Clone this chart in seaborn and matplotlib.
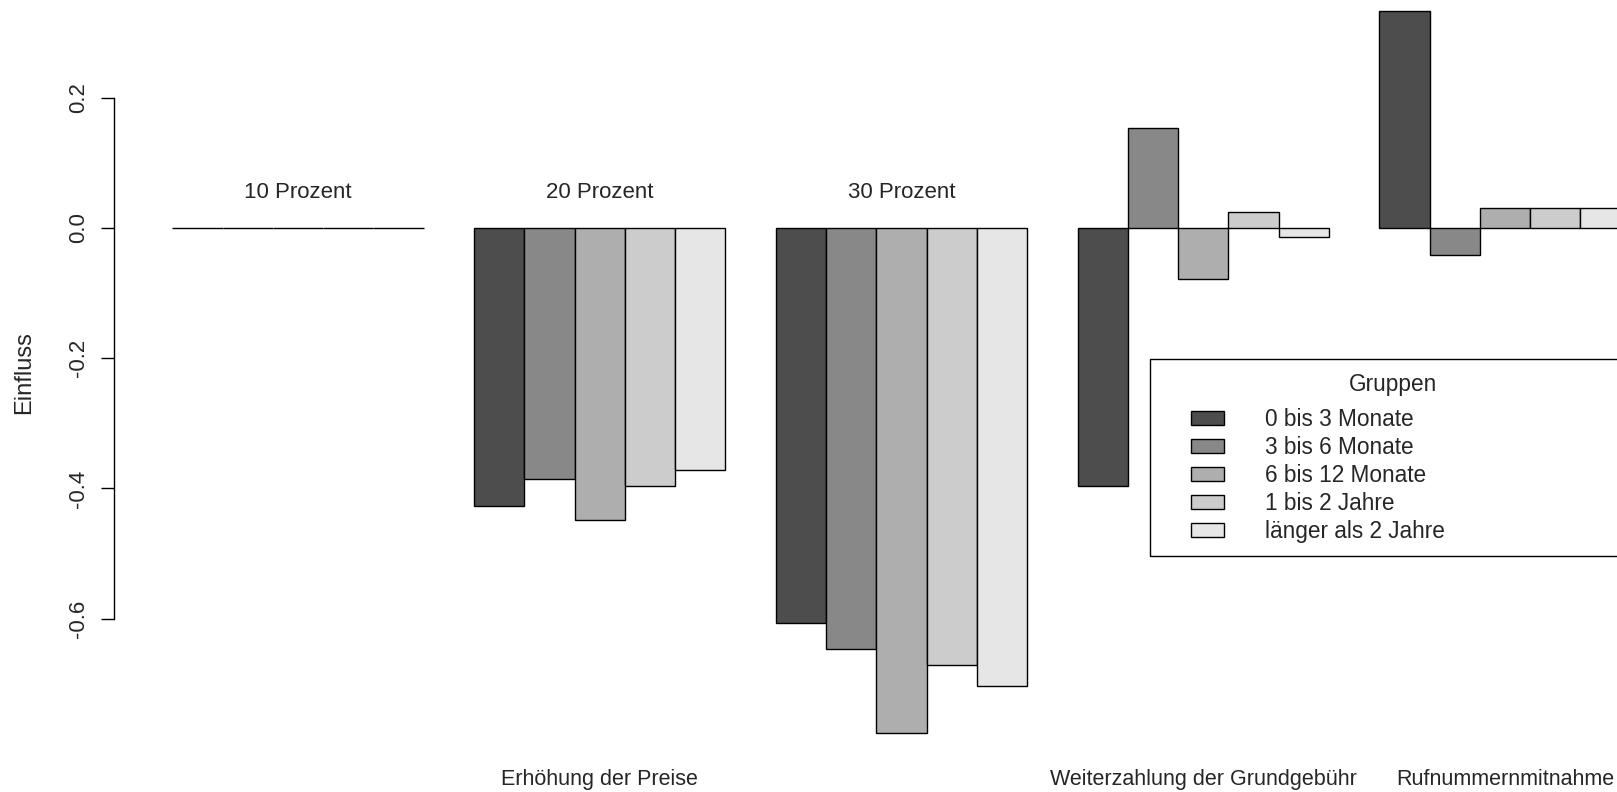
import pandas as pd
import matplotlib
matplotlib.use("Agg")
import matplotlib.pyplot as plt
import matplotlib.patches as mpatches
import seaborn as sns

# values
groups = ["10 Prozent", "20 Prozent", "30 Prozent", "Grundgebuehr", "Rufnummer"]
top_labels = ["10 Prozent", "20 Prozent", "30 Prozent", "", ""]
bottom_labels = ["", "Erhöhung der Preise", "", "Weiterzahlung der Grundgebühr", "Rufnummernmitnahme"]
categories = ["0 bis 3 Monate", "3 bis 6 Monate", "6 bis 12 Monate", "1 bis 2 Jahre", "länger als 2 Jahre"]
colors = ["#4D4D4D", "#888888", "#AEAEAE", "#CCCCCC", "#E6E6E6"]

p10 = [0.0, 0.0, 0.0, 0.0, 0.0]
p20 = [-0.427, -0.386, -0.449, -0.397, -0.372]
p30 = [-0.606, -0.646, -0.775, -0.672, -0.704]
grundgebuehr = [-0.397, 0.153, -0.079, 0.024, -0.014]
rufnummer = [0.334, -0.041, 0.030, 0.030, 0.030]

rows = []
for g, vals in zip(groups, [p10, p20, p30, grundgebuehr, rufnummer]):
    for c, v in zip(categories, vals):
        rows.append({"gruppe": g, "kategorie": c, "einfluss": v})
df = pd.DataFrame(rows)

sns.set_style("white")
plt.rcParams["font.family"] = ["Liberation Sans", "DejaVu Sans"]

W, H = 1617, 792
fs = 16
fig = plt.figure(figsize=(W / 100, H / 100), dpi=100)
ax = fig.add_axes([114 / W, 0.0381, 1575 / W, 0.9864])

sns.barplot(data=df, x="gruppe", y="einfluss", hue="kategorie", order=groups,
            hue_order=categories, palette=colors, width=5 / 6, gap=0,
            edgecolor="black", linewidth=1.0, saturation=1, errorbar=None, ax=ax)
ax.get_legend().remove()

ax.set_xlim(-0.61, 4.61)
ax.set_ylim(-0.82, 0.38)

# group captions above the bars
for i, lab in enumerate(top_labels):
    if lab:
        ax.text(i, 0.055, lab, ha="center", va="center", fontsize=fs)

for s in ["top", "right", "bottom"]:
    ax.spines[s].set_visible(False)
ax.spines["left"].set_bounds(-0.6, 0.2)
ax.spines["left"].set_linewidth(1.0)
ax.spines["left"].set_color("black")

ax.set_yticks([-0.6, -0.4, -0.2, 0.0, 0.2])
ax.set_yticklabels(["-0.6", "-0.4", "-0.2", "0.0", "0.2"], rotation=90, va="center")
ax.tick_params(axis="y", left=True, length=9.4, width=1.0, pad=8.5, labelsize=fs, color="black")
ax.set_xticks(range(len(groups)))
ax.set_xticklabels(bottom_labels, fontsize=15.5)
ax.tick_params(axis="x", bottom=False, pad=1.5)
ax.set_xlabel("")
ax.set_ylabel("")
fig.text(24 / W, 1 - 373 / H, "Einfluss", rotation=90, ha="center", va="center", fontsize=17)

# legend box
fig.add_artist(mpatches.Rectangle((1150 / W, 1 - 556 / H), 600 / W, 197 / H,
                                  transform=fig.transFigure, fill=False,
                                  edgecolor="black", linewidth=1.0))
fig.text(1393 / W, 1 - 384 / H, "Gruppen", ha="center", va="center", fontsize=16.3)
handles, labels = ax.get_legend_handles_labels()
ax.legend(handles, labels, loc="upper left", bbox_to_anchor=(1191 / W, 1 - 408 / H),
          bbox_transform=fig.transFigure, frameon=False, fontsize=16.3,
          borderpad=0, borderaxespad=0, handlelength=1.46, handleheight=0.575,
          handletextpad=1.81, labelspacing=0.22)

fig.savefig("out.png", dpi=100)
